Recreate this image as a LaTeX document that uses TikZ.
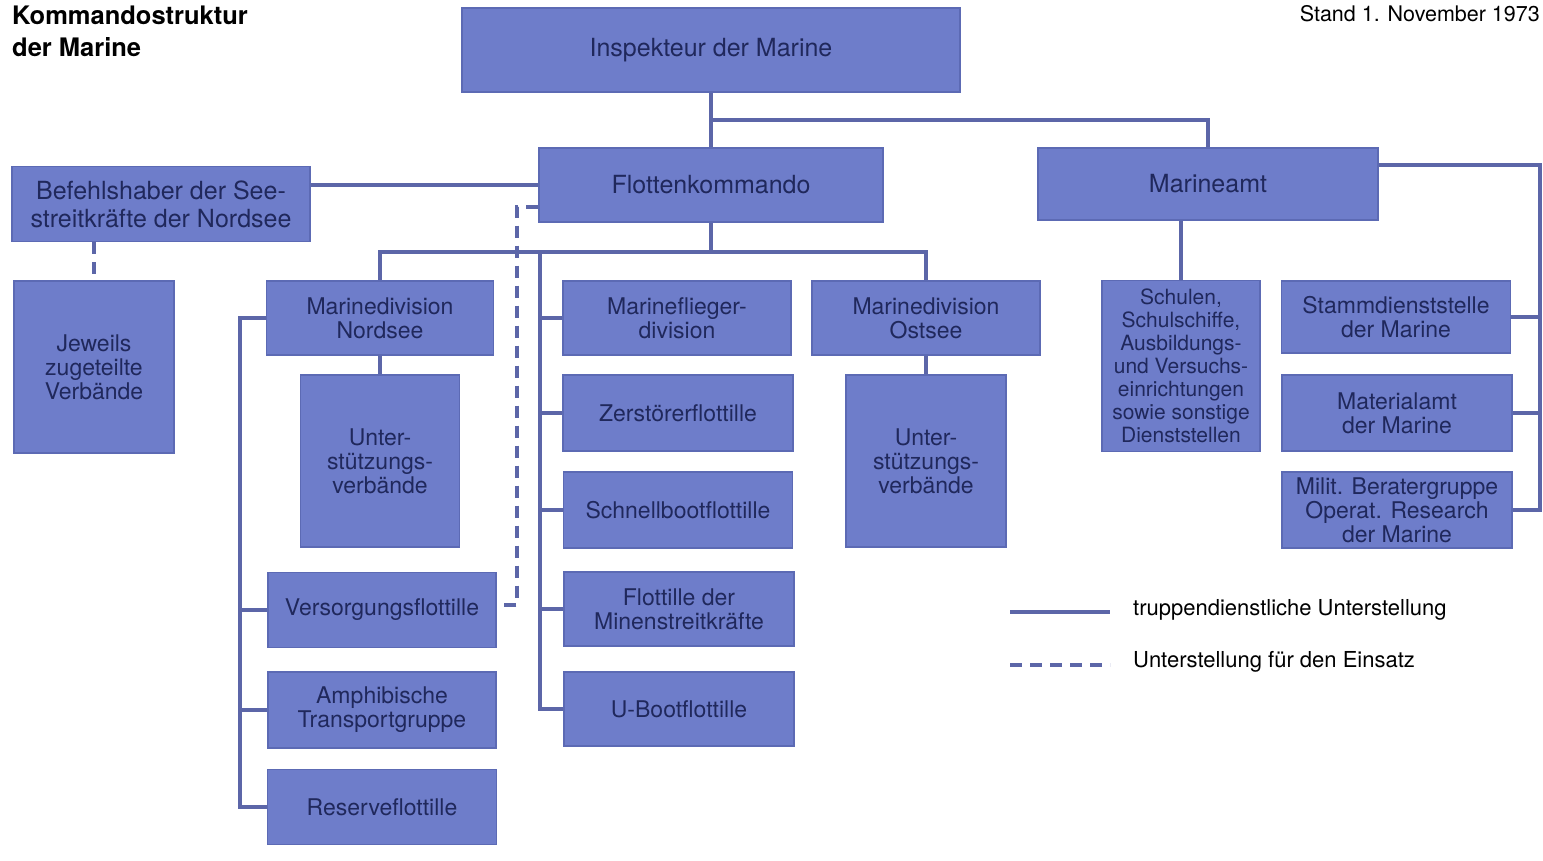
\documentclass[tikz,border=0pt]{standalone}
\usepackage{fontspec}
\setmainfont{TeX Gyre Heros}
\definecolor{boxfill}{RGB}{110,125,202}
\definecolor{boxedge}{RGB}{92,106,180}
\definecolor{boxtext}{RGB}{32,40,92}
\definecolor{lncol}{RGB}{92,102,168}
\newcommand\fbig{\fontsize{25}{28}\selectfont}
\newcommand\fmid{\fontsize{23}{24}\selectfont}
\tikzset{
  orgbox/.style={rectangle, fill=boxfill, draw=boxedge, line width=1.2pt, text=boxtext, align=center, inner sep=2pt, font=\fmid},
  topbox/.style={orgbox, font=\fbig},
  ln/.style={draw=lncol, line width=4pt},
  dsh/.style={draw=lncol, line width=4pt, dash pattern=on 12pt off 8pt},
  legtext/.style={anchor=west, text=black, font=\fontsize{22}{24}\selectfont, inner sep=0pt}
}
\begin{document}
\begin{tikzpicture}[x=1pt,y=-1pt]
\useasboundingbox (0,0) rectangle (1543,860);
\fill[white] (0,0) rectangle (1543,860);

% title
\node[anchor=north west, align=left, inner sep=0pt, font=\fontsize{25.5}{32}\selectfont\bfseries] (title) at (12,6) {Kommandostruktur\\der Marine};
\node[anchor=east, inner sep=0pt, font=\fontsize{21.5}{24}\selectfont] (stand) at (1540,14) {Stand 1. November 1973};

% boxes
\node[topbox, minimum width=498pt, minimum height=84pt] (insp) at (711,50) {Inspekteur der Marine};
\node[topbox, minimum width=344pt, minimum height=74pt] (flotte) at (711,185) {Flottenkommando};
\node[topbox, minimum width=340pt, minimum height=72pt] (amt) at (1208,184) {Marineamt};
\node[topbox, minimum width=298pt, minimum height=75pt] (befehl) at (161,204) {Befehlshaber der See-\\streitkräfte der Nordsee};
\node[orgbox, minimum width=160pt, minimum height=172pt] (jew) at (94,367) {Jeweils\\zugeteilte\\Verbände};

\node[orgbox, minimum width=227pt, minimum height=74pt] (mdn) at (380,318) {Marinedivision\\Nordsee};
\node[orgbox, minimum width=159pt, minimum height=172pt] (uvl) at (380,461) {Unter-\\stützungs-\\verbände};
\node[orgbox, minimum width=228pt, minimum height=75pt] (versorg) at (382,610) {Versorgungsflottille};
\node[orgbox, minimum width=228pt, minimum height=76pt] (amph) at (382,710) {Amphibische\\Transportgruppe};
\node[orgbox, minimum width=229pt, minimum height=75pt] (reserve) at (382,807) {Reserveflottille};

\node[orgbox, minimum width=228pt, minimum height=74pt] (flieger) at (677,318) {Marineflieger-\\division};
\node[orgbox, minimum width=230pt, minimum height=76pt] (zerst) at (678,413) {Zerstörerflottille};
\node[orgbox, minimum width=229pt, minimum height=76pt] (schnell) at (678,510) {Schnellbootflottille};
\node[orgbox, minimum width=230pt, minimum height=74pt] (minen) at (679,609) {Flottille der\\Minenstreitkräfte};
\node[orgbox, minimum width=230pt, minimum height=74pt] (uboot) at (679,709) {U-Bootflottille};

\node[orgbox, minimum width=228pt, minimum height=74pt] (mdo) at (926,318) {Marinedivision\\Ostsee};
\node[orgbox, minimum width=160pt, minimum height=172pt] (uvr) at (926,461) {Unter-\\stützungs-\\verbände};

\node[orgbox, minimum width=158pt, minimum height=171pt, font=\fontsize{21}{23}\selectfont, inner sep=0pt] (schulen) at (1181,366) {Schulen,\\Schulschiffe,\\Ausbildungs-\\und Versuchs-\\einrichtungen\\sowie sonstige\\Dienststellen};
\node[orgbox, minimum width=229pt, minimum height=72pt] (stamm) at (1396,317) {Stammdienststelle\\der Marine};
\node[orgbox, minimum width=230pt, minimum height=76pt] (material) at (1397,413) {Materialamt\\der Marine};
\node[orgbox, minimum width=230pt, minimum height=76pt] (milit) at (1397,510) {Milit. Beratergruppe\\Operat. Research\\der Marine};

% junction coordinates
\coordinate (j1) at (711,120);
\coordinate (hb) at (711,252);
\coordinate (mb) at (540,252);
\coordinate (lb) at (240,318);
\coordinate (rb) at (1540,165);
\coordinate (d1) at (517,207);
\coordinate (d2) at (517,605);

% solid connectors
\draw[ln] (insp.south) -- (flotte.north);
\draw[ln] (j1) -| (amt.north);
\draw[ln] (flotte.west) -- (flotte.west -| befehl.east);
\draw[ln] (flotte.south) -- (hb);
\draw[ln] (mdn.north) |- (hb) -| (mdo.north);
\draw[ln] (mdn.south) -- (uvl.north);
\draw[ln] (mdo.south) -- (uvr.north);
\draw[ln] (mdn.west) -- (lb) |- (reserve.west);
\draw[ln] (versorg.west -| lb) -- (versorg.west);
\draw[ln] (amph.west -| lb) -- (amph.west);
\draw[ln] (mb) |- (uboot.west);
\draw[ln] (flieger.west -| mb) -- (flieger.west);
\draw[ln] (zerst.west -| mb) -- (zerst.west);
\draw[ln] (schnell.west -| mb) -- (schnell.west);
\draw[ln] (minen.west -| mb) -- (minen.west);
\draw[ln] (amt.south -| schulen.north) -- (schulen.north);
\draw[ln] (amt.east |- rb) -- (rb) |- (milit.east);
\draw[ln] (stamm.east -| rb) -- (stamm.east);
\draw[ln] (material.east -| rb) -- (material.east);

% dashed connectors
\draw[dsh] (befehl.south -| jew.north) -- (jew.north);
\draw[dsh] (flotte.west |- d1) -- (d1) -- (d2) -- (versorg.east |- d2);

% legend
\coordinate (l1a) at (1010,612);
\coordinate (l1b) at (1110,612);
\coordinate (l2a) at (1010,665);
\coordinate (l2b) at (1110,665);
\draw[ln] (l1a) -- (l1b);
\draw[dsh] (l2a) -- (l2b);
\node[legtext] (leg1) at (1133,610) {truppendienstliche Unterstellung};
\node[legtext] (leg2) at (1133,662) {Unterstellung für den Einsatz};
\end{tikzpicture}
\end{document}
